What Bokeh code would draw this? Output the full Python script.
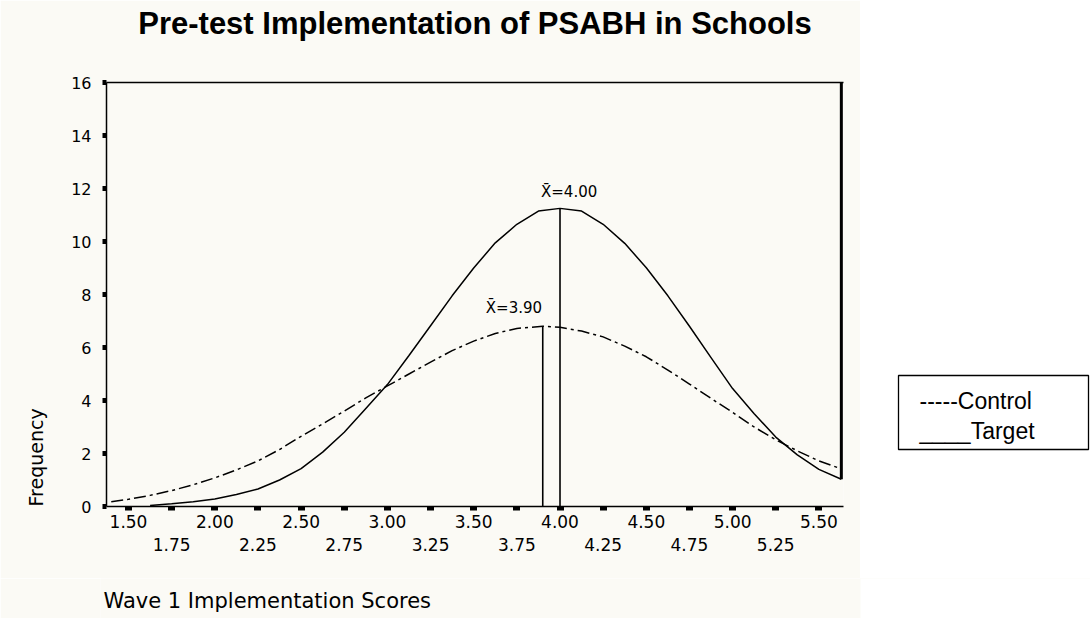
from bokeh.plotting import figure
from bokeh.models import Range1d, LinearAxis, FixedTicker, PrintfTickFormatter, Title
from bokeh.layouts import row, column
from bokeh.embed import file_html
from bokeh.resources import INLINE
from bokeh.core.properties import value

# ---------------- data ----------------
title_text = "Pre-test Implementation of PSABH in Schools"
x_label = "Wave 1 Implementation Scores"
y_label = "Frequency"

y_ticks = [0, 2, 4, 6, 8, 10, 12, 14, 16]
x_major_ticks = [1.50, 2.00, 2.50, 3.00, 3.50, 4.00, 4.50, 5.00, 5.50]
x_minor_ticks = [1.75, 2.25, 2.75, 3.25, 3.75, 4.25, 4.75, 5.25]

target_x = [1.625, 1.75, 1.875, 2.00, 2.125, 2.25, 2.375, 2.50, 2.625, 2.75, 2.875,
            3.00, 3.125, 3.25, 3.375, 3.50, 3.625, 3.75, 3.875, 4.00, 4.125, 4.25,
            4.375, 4.50, 4.625, 4.75, 4.875, 5.00, 5.125, 5.25, 5.375, 5.50, 5.63]
target_y = [0.04, 0.10, 0.18, 0.28, 0.45, 0.66, 1.00, 1.43, 2.05, 2.80, 3.70,
            4.60, 5.70, 6.82, 7.95, 9.00, 9.95, 10.65, 11.15, 11.25, 11.15, 10.65,
            9.93, 9.01, 7.95, 6.80, 5.62, 4.45, 3.50, 2.62, 1.95, 1.40, 1.03]

control_x = [1.40, 1.50, 1.625, 1.75, 1.875, 2.00, 2.125, 2.25, 2.375, 2.50, 2.625,
             2.75, 2.875, 3.00, 3.125, 3.25, 3.375, 3.50, 3.625, 3.75, 3.90, 4.00,
             4.125, 4.25, 4.375, 4.50, 4.625, 4.75, 4.875, 5.00, 5.125, 5.25, 5.375,
             5.50, 5.63]
control_y = [0.18, 0.27, 0.42, 0.60, 0.82, 1.08, 1.38, 1.72, 2.15, 2.65, 3.12,
             3.60, 4.10, 4.55, 5.00, 5.45, 5.88, 6.24, 6.53, 6.72, 6.80, 6.76,
             6.62, 6.40, 6.05, 5.65, 5.15, 4.62, 4.08, 3.55, 3.00, 2.52, 2.10,
             1.72, 1.42]

target_mean = 4.00
control_mean = 3.90

legend_texts = ["-----Control", "____Target"]

# ---------------- styles ----------------
BEIGE = "#fbfaf5"
PIX = "DejaVu Sans"
TOP, FRAME_H = 82, 424
MAIN_H = 578            # height of the main row
FOOT_H = 40             # strip that carries the x-axis title

p = figure(width=860, height=MAIN_H,
           x_range=Range1d(1.3725, 5.6425), y_range=Range1d(0, 16),
           output_backend="svg", toolbar_location=None,
           min_border_left=106, min_border_right=17,
           min_border_top=TOP, min_border_bottom=MAIN_H - TOP - FRAME_H)
p.background_fill_color = BEIGE
p.border_fill_color = BEIGE
p.outline_line_color = None
p.xgrid.visible = False
p.ygrid.visible = False

# y axis
ya = p.yaxis[0]
ya.ticker = FixedTicker(ticks=y_ticks, minor_ticks=[])
ya.axis_line_width = 1.5
ya.axis_line_color = "#000000"
ya.major_tick_line_width = 5
ya.major_tick_in = 0
ya.major_tick_out = 4
ya.major_tick_line_color = "#000000"
ya.minor_tick_line_color = None
ya.major_label_text_font = PIX
ya.major_label_text_font_size = "16px"
ya.major_label_text_color = "#000000"
ya.major_label_standoff = 11

# x axis (first row of labels)
xa = p.xaxis[0]
xa.ticker = FixedTicker(ticks=x_major_ticks, minor_ticks=x_minor_ticks)
xa.formatter = PrintfTickFormatter(format="%.2f")
xa.axis_line_width = 1.5
xa.axis_line_color = "#000000"
xa.major_tick_line_width = 7
xa.major_tick_in = 0
xa.major_tick_out = 4
xa.major_tick_line_color = "#000000"
xa.minor_tick_line_width = 7
xa.minor_tick_in = 0
xa.minor_tick_out = 4
xa.minor_tick_line_color = "#000000"
xa.major_label_text_font = PIX
xa.major_label_text_font_size = "17px"
xa.major_label_text_color = "#000000"
xa.major_label_standoff = 4

# x axis second row of labels
xa2 = LinearAxis(ticker=FixedTicker(ticks=x_minor_ticks, minor_ticks=[]),
                 formatter=PrintfTickFormatter(format="%.2f"),
                 axis_line_color=None, major_tick_line_color=None,
                 minor_tick_line_color=None, major_tick_in=0, major_tick_out=0,
                 minor_tick_in=0, minor_tick_out=0,
                 major_label_text_font=PIX, major_label_text_font_size="17px",
                 major_label_text_color="#000000", major_label_standoff=7)
p.add_layout(xa2, "below")

# top border line, carrying the chart title
top_axis = LinearAxis(ticker=FixedTicker(ticks=[], minor_ticks=[]),
                      axis_line_width=1.3, axis_line_color="#000000",
                      major_tick_in=0, major_tick_out=0, minor_tick_in=0,
                      minor_tick_out=0, major_label_text_font_size="0px",
                      major_label_standoff=0,
                      axis_label=title_text, axis_label_standoff=42,
                      axis_label_text_font="Liberation Sans",
                      axis_label_text_font_style="bold",
                      axis_label_text_font_size="31px",
                      axis_label_text_color="#000000")
p.add_layout(top_axis, "above")

# y axis title
p.add_layout(Title(text=y_label, align="left", text_font=PIX, text_font_size="19px",
                   text_font_style="normal", text_color="#000000", standoff=44), "left")

# curves
p.line(target_x, target_y, line_color="#000000", line_width=1.5)
p.line(control_x, control_y, line_color="#000000", line_width=1.5, line_dash="12 4 3 4")

# mean lines
p.segment(x0=[target_mean, control_mean], y0=[0, 0],
          x1=[target_mean, control_mean], y1=[max(target_y), max(control_y)],
          line_color="#000000", line_width=1.6)

# right edge heavy line
p.segment(x0=[target_x[-1]], y0=[target_y[-1]], x1=[target_x[-1]], y1=[y_ticks[-1]],
          line_color="#000000", line_width=3)

# mean labels
p.text(x=[target_mean - 0.11, control_mean - 0.33],
       y=[max(target_y) + 0.6, max(control_y) + 0.7],
       text=[f"X\u0304={target_mean:.2f}", f"X\u0304={control_mean:.2f}"],
       text_font=value(PIX), text_font_size="15px", text_color="#000000",
       text_align="left", text_baseline="middle")

# ---------------- legend box (separate panel to the right) ----------------
lg = figure(width=230, height=MAIN_H, x_range=Range1d(0, 230), y_range=Range1d(0, FRAME_H),
            output_backend="svg", toolbar_location=None,
            min_border_left=0, min_border_right=0,
            min_border_top=TOP, min_border_bottom=MAIN_H - TOP - FRAME_H,
            x_axis_type=None, y_axis_type=None)
lg.xgrid.visible = False
lg.ygrid.visible = False
lg.outline_line_color = None
lg.background_fill_color = "#ffffff"
lg.border_fill_color = "#ffffff"
lg.quad(left=[38], right=[228], bottom=[57], top=[131],
        fill_color="#ffffff", line_color="#000000", line_width=1.3)
lg.text(x=[59, 59], y=[106, 76], text=legend_texts,
        text_font=value("Liberation Sans"), text_font_size="23px",
        text_color="#000000", text_align="left", text_baseline="alphabetic")

# ---------------- footer strip with the x-axis title ----------------
ft = figure(width=1090, height=FOOT_H, x_range=Range1d(0, 990), y_range=Range1d(0, FOOT_H),
            output_backend="svg", toolbar_location=None,
            min_border_left=100, min_border_right=0, min_border_top=0, min_border_bottom=0,
            x_axis_type=None, y_axis_type=None)
ft.xgrid.visible = False
ft.ygrid.visible = False
ft.outline_line_color = None
ft.background_fill_color = BEIGE
ft.border_fill_color = BEIGE
ft.quad(left=[760], right=[990], bottom=[0], top=[FOOT_H],
        fill_color="#ffffff", line_color=None)
ft.text(x=[3], y=[18], text=[x_label], text_font=value(PIX), text_font_size="21px",
        text_color="#000000", text_align="left", text_baseline="alphabetic")

layout = column(row(p, lg), ft)
open("out.html", "w").write(file_html(layout, INLINE))
